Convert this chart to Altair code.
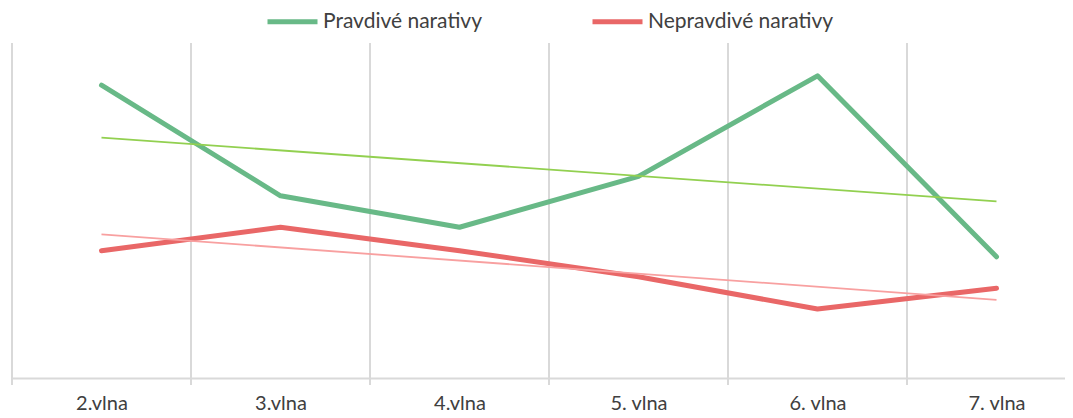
import altair as alt
import pandas as pd

categories = ["2.vlna", "3.vlna", "4.vlna", "5. vlna", "6. vlna", "7. vlna"]
series_names = ["Pravdivé narativy", "Nepravdivé narativy"]
pravdive = [43.7, 27.2, 22.5, 30.1, 45.1, 18.1]
nepravdive = [19.0, 22.5, 19.0, 15.1, 10.3, 13.4]

main_colors = ["#68b987", "#e96767"]
trend_colors = ["#92d050", "#f8a0a0"]

rows = []
for i, c in enumerate(categories):
    rows.append({"idx": i, "cat": c, "series": series_names[0], "value": pravdive[i]})
    rows.append({"idx": i, "cat": c, "series": series_names[1], "value": nepravdive[i]})
df = pd.DataFrame(rows)

grid_df = pd.DataFrame({"pos": [i - 0.5 for i in range(len(categories))]})

W, H = 1053, 335
xscale = alt.Scale(domain=[-0.5, -0.5 + W / 179.0], nice=False, zero=False)
yscale = alt.Scale(domain=[0, 50], nice=False)

label_expr = "[" + ",".join("'%s'" % c for c in categories) + "][datum.value]"

grid = alt.Chart(grid_df).mark_rule(color="#d9d9d9", strokeWidth=2).encode(
    x=alt.X("pos:Q", scale=xscale,
            axis=alt.Axis(values=list(range(len(categories))), labelExpr=label_expr,
                          title=None, ticks=False, grid=False,
                          domainColor="#d9d9d9", domainWidth=2,
                          labelFont="Lato", labelFontSize=20, labelColor="#404040",
                          labelPadding=15)),
    y=alt.value(0),
    y2=alt.value(H + 7),
)

lines = alt.Chart(df).mark_line(strokeWidth=5, strokeCap="round", strokeJoin="round").encode(
    x=alt.X("idx:Q", scale=xscale),
    y=alt.Y("value:Q", scale=yscale, axis=None),
    color=alt.Color("series:N",
                    scale=alt.Scale(domain=series_names, range=main_colors),
                    sort=series_names,
                    legend=alt.Legend(title=None, orient="none", direction="horizontal",
                                      legendX=253, legendY=-49,
                                      symbolType="stroke", symbolSize=2500,
                                      symbolStrokeWidth=5, labelOffset=3,
                                      labelFont="Lato", labelFontSize=21,
                                      labelColor="#404040", columnPadding=100,
                                      labelLimit=400)),
)

trends = alt.Chart(df).transform_regression(
    "idx", "value", groupby=["series"]
).mark_line(strokeWidth=1.8).encode(
    x=alt.X("idx:Q", scale=xscale),
    y=alt.Y("value:Q", scale=yscale),
    color=alt.Color("series:N",
                    scale=alt.Scale(domain=series_names, range=trend_colors),
                    legend=None),
)

chart = alt.layer(grid, lines, trends).resolve_scale(color="independent").properties(
    width=W, height=H,
    autosize=alt.AutoSizeParams(type="none"),
    padding={"left": 4, "top": 35, "right": 0, "bottom": 38},
).configure_view(stroke=None)

chart.save("out.html", embed_options={"renderer": "svg", "actions": False})
